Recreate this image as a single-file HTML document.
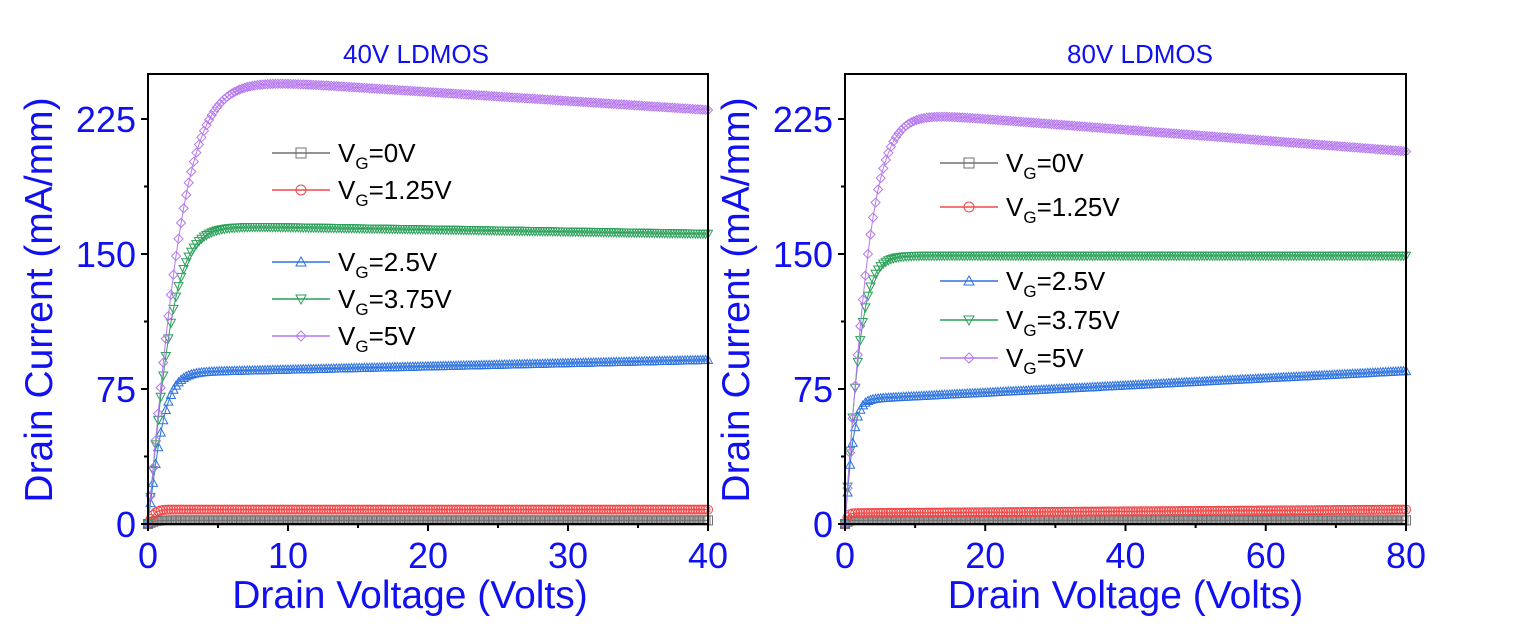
<!DOCTYPE html>
<html><head><meta charset="utf-8"><style>
body{margin:0;background:#fff;}
svg{display:block;font-family:"Liberation Sans",Arial,sans-serif;}
</style></head><body>
<svg id="s" width="1521" height="631" xmlns="http://www.w3.org/2000/svg"></svg>
<script>
const s=document.getElementById('s');let h='';
const B='#1010f0';
const col={k:'#707070',r:'#f04848',b:'#2c72e0',g:'#2aa058',p:'#b678f0'};
function marker(t,x,y,c,sz){
 const r=sz/2;
 if(t=='sq')return `<rect x="${x-r}" y="${y-r}" width="${sz}" height="${sz}" fill="none" stroke="${c}" stroke-width="1"/>`;
 if(t=='ci')return `<circle cx="${x}" cy="${y}" r="${r}" fill="none" stroke="${c}" stroke-width="1"/>`;
 if(t=='up')return `<polygon points="${x},${y-r} ${x+r},${y+r*0.8} ${x-r},${y+r*0.8}" fill="none" stroke="${c}" stroke-width="1"/>`;
 if(t=='dn')return `<polygon points="${x},${y+r} ${x+r},${y-r*0.8} ${x-r},${y-r*0.8}" fill="none" stroke="${c}" stroke-width="1"/>`;
 return `<polygon points="${x},${y-r} ${x+r},${y} ${x},${y+r} ${x-r},${y}" fill="none" stroke="${c}" stroke-width="1"/>`;
}
function plot(x0,x1,xmax,xt,title,curves,leg,tOff,tcx){
 const y0=524,y1=74;const sx=(x1-x0)/xmax,sy=405/225;
 const X=v=>x0+v*sx,Y=i=>y0-i*sy;
 h+=`<text x="${tcx}" y="63" font-size="26" fill="${B}" text-anchor="middle">${title}</text>`;
 const st=xmax/220;
 for(const c of curves){
  let pts='';let m='';
  for(let v=0;v<=xmax+1e-9;v+=st){const x=X(v),y=Y(c.f(v));pts+=`${x.toFixed(1)},${y.toFixed(1)} `;m+=marker(c.t,x,y,c.c,9);}
  h+=`<polyline points="${pts}" fill="none" stroke="${c.c}" stroke-width="1"/>`+m;
 }
 h+=`<rect x="${x0}" y="${y1}" width="${x1-x0}" height="${y0-y1}" fill="none" stroke="#000" stroke-width="2"/>`;
 for(let i=0;i<=225;i+=37.5){const y=Y(i);const maj=i%75==0;h+=`<line x1="${x0}" x2="${x0-(maj?7:4)}" y1="${y}" y2="${y}" stroke="#000" stroke-width="2"/>`;
  if(maj)h+=`<text x="${x0-12}" y="${y+13}" font-size="36" fill="${B}" text-anchor="end">${i}</text>`;}
 for(let v=0;v<=xmax;v+=xt/2){const x=X(v);const maj=Math.abs(v/xt-Math.round(v/xt))<1e-6;h+=`<line x1="${x}" x2="${x}" y1="${y0}" y2="${y0+(maj?7:4)}" stroke="#000" stroke-width="2"/>`;
  if(maj)h+=`<text x="${x}" y="${y0+44}" font-size="36" fill="${B}" text-anchor="middle">${v}</text>`;}
 h+=`<text x="${(x0+x1)/2+tOff}" y="608" font-size="39" fill="${B}" text-anchor="middle">Drain Voltage (Volts)</text>`;
 h+=`<text transform="translate(${x0-96},300) rotate(-90)" font-size="39" fill="${B}" text-anchor="middle">Drain Current (mA/mm)</text>`;
 const labs=['0V','1.25V','2.5V','3.75V','5V'];
 curves.forEach((c,k)=>{const y=leg.ys[k];h+=`<line x1="${leg.x}" x2="${leg.x+58}" y1="${y}" y2="${y}" stroke="${c.c}" stroke-width="1.5"/>`+marker(c.t,leg.x+29,y,c.c,10);
  h+=`<text x="${leg.x+66}" y="${y+9}" font-size="26" fill="#000">V<tspan font-size="17" dy="7">G</tspan><tspan dy="-7">=${labs[k]}</tspan></text>`;});
}
const th=Math.tanh;
plot(148,708,40,10,'40V LDMOS',[
 {t:'sq',c:col.k,f:v=>2*th(v/0.5)},
 {t:'ci',c:col.r,f:v=>8*th(v/0.5)},
 {t:'up',c:col.b,f:v=>th(v/1.3)*(84+0.18*v)},
 {t:'dn',c:col.g,f:v=>th(v/2)*(166-0.12*v)},
 {t:'di',c:col.p,f:v=>th(v/2.9)*(250-0.5*v)}
],{x:272,ys:[153,190,262,299,336]},-18,416);
plot(845,1406,80,20,'80V LDMOS',[
 {t:'sq',c:col.k,f:v=>2*th(v/0.5)},
 {t:'ci',c:col.r,f:v=>th(v/0.5)*(6+0.025*v)},
 {t:'up',c:col.b,f:v=>th(v/1.4)*(69+0.2*v)},
 {t:'dn',c:col.g,f:v=>th(v/2.6)*149},
 {t:'di',c:col.p,f:v=>th(v/4.2)*(231-0.3*v)}
],{x:940,ys:[163,207,281,320,358]},0,1140);
s.innerHTML=h;
</script>
</body></html>
